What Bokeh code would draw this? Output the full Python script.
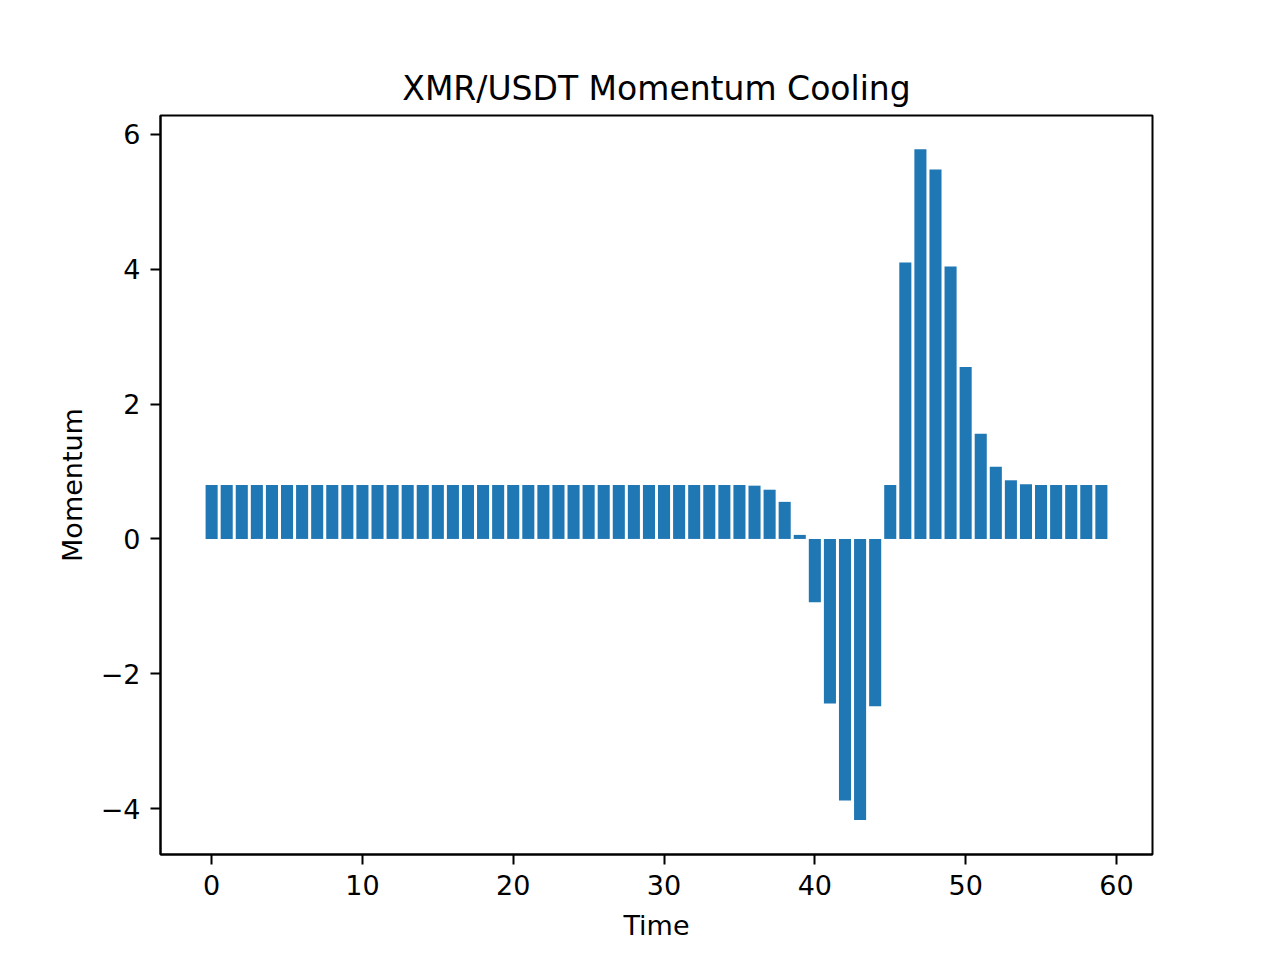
from bokeh.plotting import figure
from bokeh.models import Range1d, FixedTicker, ColumnDataSource
from bokeh.embed import file_html
from bokeh.resources import INLINE

time = list(range(60))
momentum = [0.80] * 36 + [0.79, 0.73, 0.55, 0.06, -0.94, -2.44, -3.88, -4.17, -2.48,
                          0.80, 4.10, 5.78, 5.48, 4.04, 2.55, 1.56, 1.07, 0.87, 0.81,
                          0.80, 0.80, 0.80, 0.80, 0.80]
x_ticks = [0, 10, 20, 30, 40, 50, 60]
y_ticks = [-4, -2, 0, 2, 4, 6]

FONT = "DejaVu Sans"

p = figure(width=1272, height=952, output_backend="svg", toolbar_location=None,
           title="XMR/USDT Momentum Cooling",
           x_range=Range1d(-3.39, 62.39), y_range=Range1d(-4.68, 6.28),
           min_border_left=160, min_border_right=120, min_border_top=115, min_border_bottom=98)

src = ColumnDataSource(dict(x=time, top=momentum))
p.vbar(x="x", top="top", bottom=0, width=0.8, source=src, fill_color="#1f77b4", line_color=None)

p.title.align = "center"
p.title.text_font = FONT
p.title.text_font_size = "33px"
p.title.text_font_style = "normal"
p.title.text_color = "black"
p.title.standoff = 16

p.outline_line_color = "black"
p.outline_line_width = 2
p.background_fill_color = "white"
p.border_fill_color = "white"
p.xgrid.visible = False
p.ygrid.visible = False

p.xaxis.axis_label = "Time"
p.yaxis.axis_label = "Momentum"
p.xaxis.ticker = FixedTicker(ticks=x_ticks)
p.yaxis.ticker = FixedTicker(ticks=y_ticks)
p.yaxis.major_label_overrides = {-4: "\u22124", -2: "\u22122"}

for ax in (p.xaxis[0], p.yaxis[0]):
    ax.axis_line_color = "black"
    ax.axis_line_width = 2
    ax.major_tick_line_color = "black"
    ax.major_tick_line_width = 2
    ax.major_tick_out = 10
    ax.major_tick_in = 0
    ax.minor_tick_line_color = None
    ax.major_label_text_font = FONT
    ax.major_label_text_font_size = "27px"
    ax.major_label_text_color = "black"
    ax.axis_label_text_font = FONT
    ax.axis_label_text_font_size = "27px"
    ax.axis_label_text_font_style = "normal"
    ax.axis_label_text_color = "black"
    ax.major_label_standoff = 10
    ax.axis_label_standoff = 10
p.xaxis[0].axis_label_standoff = 12

open("out.html", "w").write(file_html(p, INLINE))
